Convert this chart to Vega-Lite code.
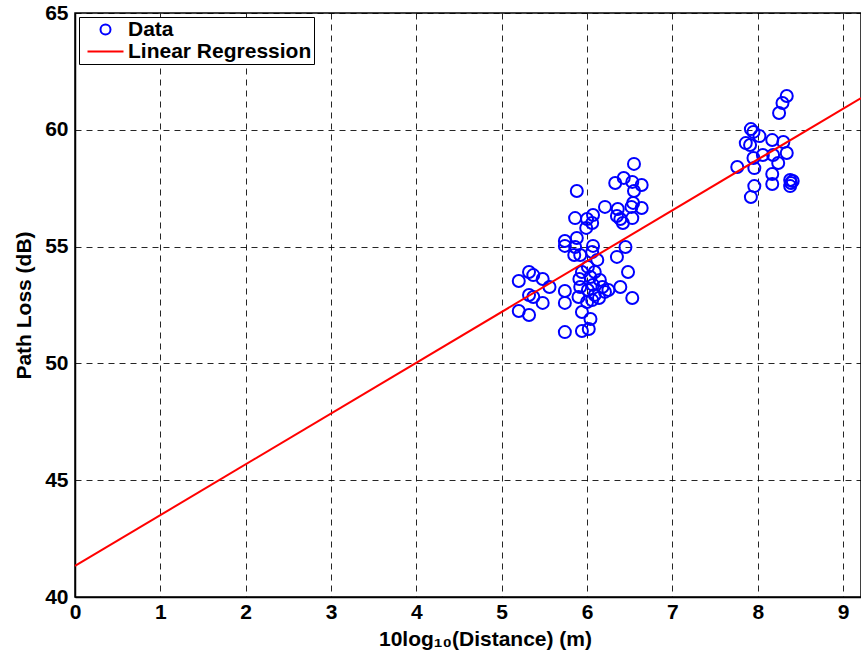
{
  "$schema": "https://vega.github.io/schema/vega-lite/v6.json",
  "width": 786,
  "height": 584,
  "autosize": {"type": "none"},
  "padding": {"left": 75, "top": 13, "right": 0, "bottom": 68},
  "background": "white",
  "config": {
    "view": {"stroke": "black", "strokeWidth": 1.5},
    "font": "Liberation Sans",
    "axis": {
      "domainColor": "black", "domainWidth": 1.5,
      "gridColor": "black", "gridDash": [6, 5], "gridWidth": 1, "gridOpacity": 0.85,
      "ticks": false, "labelFlush": false,
      "labelFont": "Liberation Sans", "labelFontWeight": "bold", "labelFontSize": 21, "labelColor": "black",
      "titleFont": "Liberation Sans", "titleFontWeight": "bold", "titleFontSize": 21, "titleColor": "black"
    }
  },
  "datasets": {
    "points": [
      {"distance_db": 5.20, "path_loss": 53.53, "series": "Data"},
      {"distance_db": 5.32, "path_loss": 53.91, "series": "Data"},
      {"distance_db": 5.37, "path_loss": 53.78, "series": "Data"},
      {"distance_db": 5.48, "path_loss": 53.61, "series": "Data"},
      {"distance_db": 5.56, "path_loss": 53.27, "series": "Data"},
      {"distance_db": 5.32, "path_loss": 52.93, "series": "Data"},
      {"distance_db": 5.37, "path_loss": 52.84, "series": "Data"},
      {"distance_db": 5.48, "path_loss": 52.59, "series": "Data"},
      {"distance_db": 5.20, "path_loss": 52.24, "series": "Data"},
      {"distance_db": 5.32, "path_loss": 52.07, "series": "Data"},
      {"distance_db": 5.74, "path_loss": 53.10, "series": "Data"},
      {"distance_db": 5.74, "path_loss": 52.59, "series": "Data"},
      {"distance_db": 5.74, "path_loss": 51.34, "series": "Data"},
      {"distance_db": 5.94, "path_loss": 51.39, "series": "Data"},
      {"distance_db": 6.02, "path_loss": 51.47, "series": "Data"},
      {"distance_db": 5.94, "path_loss": 52.20, "series": "Data"},
      {"distance_db": 6.04, "path_loss": 51.90, "series": "Data"},
      {"distance_db": 5.91, "path_loss": 53.61, "series": "Data"},
      {"distance_db": 5.92, "path_loss": 53.27, "series": "Data"},
      {"distance_db": 6.04, "path_loss": 53.70, "series": "Data"},
      {"distance_db": 6.07, "path_loss": 53.36, "series": "Data"},
      {"distance_db": 6.15, "path_loss": 53.57, "series": "Data"},
      {"distance_db": 6.21, "path_loss": 53.06, "series": "Data"},
      {"distance_db": 6.09, "path_loss": 52.93, "series": "Data"},
      {"distance_db": 5.90, "path_loss": 52.84, "series": "Data"},
      {"distance_db": 6.00, "path_loss": 52.63, "series": "Data"},
      {"distance_db": 6.14, "path_loss": 52.80, "series": "Data"},
      {"distance_db": 6.01, "path_loss": 54.13, "series": "Data"},
      {"distance_db": 5.94, "path_loss": 53.91, "series": "Data"},
      {"distance_db": 6.09, "path_loss": 53.91, "series": "Data"},
      {"distance_db": 6.12, "path_loss": 54.43, "series": "Data"},
      {"distance_db": 6.39, "path_loss": 53.27, "series": "Data"},
      {"distance_db": 6.53, "path_loss": 52.80, "series": "Data"},
      {"distance_db": 6.48, "path_loss": 53.91, "series": "Data"},
      {"distance_db": 6.35, "path_loss": 54.56, "series": "Data"},
      {"distance_db": 6.45, "path_loss": 54.98, "series": "Data"},
      {"distance_db": 6.01, "path_loss": 53.14, "series": "Data"},
      {"distance_db": 6.18, "path_loss": 53.27, "series": "Data"},
      {"distance_db": 6.25, "path_loss": 53.14, "series": "Data"},
      {"distance_db": 6.06, "path_loss": 52.71, "series": "Data"},
      {"distance_db": 5.74, "path_loss": 55.24, "series": "Data"},
      {"distance_db": 5.74, "path_loss": 55.03, "series": "Data"},
      {"distance_db": 5.88, "path_loss": 55.37, "series": "Data"},
      {"distance_db": 5.86, "path_loss": 54.98, "series": "Data"},
      {"distance_db": 5.85, "path_loss": 54.64, "series": "Data"},
      {"distance_db": 5.92, "path_loss": 54.64, "series": "Data"},
      {"distance_db": 6.07, "path_loss": 55.03, "series": "Data"},
      {"distance_db": 6.06, "path_loss": 54.77, "series": "Data"},
      {"distance_db": 5.86, "path_loss": 56.22, "series": "Data"},
      {"distance_db": 6.00, "path_loss": 56.18, "series": "Data"},
      {"distance_db": 6.07, "path_loss": 56.35, "series": "Data"},
      {"distance_db": 6.06, "path_loss": 56.01, "series": "Data"},
      {"distance_db": 5.99, "path_loss": 55.80, "series": "Data"},
      {"distance_db": 5.88, "path_loss": 57.38, "series": "Data"},
      {"distance_db": 6.21, "path_loss": 56.70, "series": "Data"},
      {"distance_db": 6.36, "path_loss": 56.61, "series": "Data"},
      {"distance_db": 6.35, "path_loss": 56.31, "series": "Data"},
      {"distance_db": 6.39, "path_loss": 56.18, "series": "Data"},
      {"distance_db": 6.42, "path_loss": 56.01, "series": "Data"},
      {"distance_db": 6.53, "path_loss": 56.22, "series": "Data"},
      {"distance_db": 6.52, "path_loss": 56.70, "series": "Data"},
      {"distance_db": 6.54, "path_loss": 56.87, "series": "Data"},
      {"distance_db": 6.64, "path_loss": 56.65, "series": "Data"},
      {"distance_db": 6.33, "path_loss": 57.72, "series": "Data"},
      {"distance_db": 6.43, "path_loss": 57.94, "series": "Data"},
      {"distance_db": 6.53, "path_loss": 57.77, "series": "Data"},
      {"distance_db": 6.64, "path_loss": 57.64, "series": "Data"},
      {"distance_db": 6.55, "path_loss": 57.38, "series": "Data"},
      {"distance_db": 6.55, "path_loss": 58.54, "series": "Data"},
      {"distance_db": 8.34, "path_loss": 61.45, "series": "Data"},
      {"distance_db": 8.29, "path_loss": 61.15, "series": "Data"},
      {"distance_db": 8.25, "path_loss": 60.72, "series": "Data"},
      {"distance_db": 7.92, "path_loss": 60.03, "series": "Data"},
      {"distance_db": 7.95, "path_loss": 59.91, "series": "Data"},
      {"distance_db": 7.86, "path_loss": 59.43, "series": "Data"},
      {"distance_db": 7.91, "path_loss": 59.35, "series": "Data"},
      {"distance_db": 8.02, "path_loss": 59.73, "series": "Data"},
      {"distance_db": 8.17, "path_loss": 59.56, "series": "Data"},
      {"distance_db": 8.30, "path_loss": 59.48, "series": "Data"},
      {"distance_db": 8.06, "path_loss": 58.92, "series": "Data"},
      {"distance_db": 7.95, "path_loss": 58.79, "series": "Data"},
      {"distance_db": 8.18, "path_loss": 58.92, "series": "Data"},
      {"distance_db": 8.34, "path_loss": 59.01, "series": "Data"},
      {"distance_db": 8.24, "path_loss": 58.58, "series": "Data"},
      {"distance_db": 7.76, "path_loss": 58.41, "series": "Data"},
      {"distance_db": 7.96, "path_loss": 58.36, "series": "Data"},
      {"distance_db": 8.17, "path_loss": 58.11, "series": "Data"},
      {"distance_db": 8.17, "path_loss": 57.68, "series": "Data"},
      {"distance_db": 7.96, "path_loss": 57.59, "series": "Data"},
      {"distance_db": 7.92, "path_loss": 57.12, "series": "Data"},
      {"distance_db": 8.38, "path_loss": 57.85, "series": "Data"},
      {"distance_db": 8.41, "path_loss": 57.81, "series": "Data"},
      {"distance_db": 8.38, "path_loss": 57.59, "series": "Data"},
      {"distance_db": 8.39, "path_loss": 57.72, "series": "Data"}
    ],
    "fit": [
      {"distance_db": 0, "path_loss": 41.33, "series": "Linear Regression"},
      {"distance_db": 9.21, "path_loss": 61.36, "series": "Linear Regression"}
    ]
  },
  "layer": [
    {
      "data": {"name": "points"},
      "mark": {"type": "point", "filled": false, "strokeWidth": 2, "size": 144, "opacity": 1},
      "encoding": {
        "x": {
          "field": "distance_db", "type": "quantitative",
          "scale": {"domain": [0, 9.21], "nice": false, "zero": false},
          "axis": {"values": [0, 1, 2, 3, 4, 5, 6, 7, 8, 9], "format": "d", "labelPadding": 4, "titlePadding": 6, "titleX": 410, "title": "10log₁₀(Distance) (m)"}
        },
        "y": {
          "field": "path_loss", "type": "quantitative",
          "scale": {"domain": [40, 65], "nice": false, "zero": false},
          "axis": {"values": [40, 45, 50, 55, 60, 65], "labelPadding": 7, "titlePadding": 10, "title": "Path Loss (dB)"}
        },
        "color": {
          "field": "series", "type": "nominal",
          "scale": {"domain": ["Data", "Linear Regression"], "range": ["#0000ff", "#ff0000"]},
          "legend": {
            "title": null, "orient": "top-left", "offset": 4, "padding": 2,
            "strokeColor": "black", "fillColor": "white", "labelLimit": 400,
            "labelFont": "Liberation Sans", "labelFontWeight": "bold", "labelFontSize": 21, "labelColor": "black",
            "symbolSize": 100, "symbolStrokeWidth": 2, "symbolOffset": 14, "labelOffset": 12, "rowPadding": 0
          }
        },
        "shape": {
          "field": "series", "type": "nominal",
          "scale": {"domain": ["Data", "Linear Regression"], "range": ["circle", "M-3.6,0L3.6,0"]},
          "legend": {
            "title": null, "orient": "top-left", "offset": 4, "padding": 2,
            "strokeColor": "black", "fillColor": "white", "labelLimit": 400,
            "labelFont": "Liberation Sans", "labelFontWeight": "bold", "labelFontSize": 21, "labelColor": "black",
            "symbolSize": 100, "symbolStrokeWidth": 2, "symbolOffset": 14, "labelOffset": 12, "rowPadding": 0
          }
        }
      }
    },
    {
      "data": {"name": "fit"},
      "mark": {"type": "line", "strokeWidth": 2},
      "encoding": {
        "x": {"field": "distance_db", "type": "quantitative"},
        "y": {"field": "path_loss", "type": "quantitative"},
        "color": {"field": "series", "type": "nominal"}
      }
    }
  ]
}
